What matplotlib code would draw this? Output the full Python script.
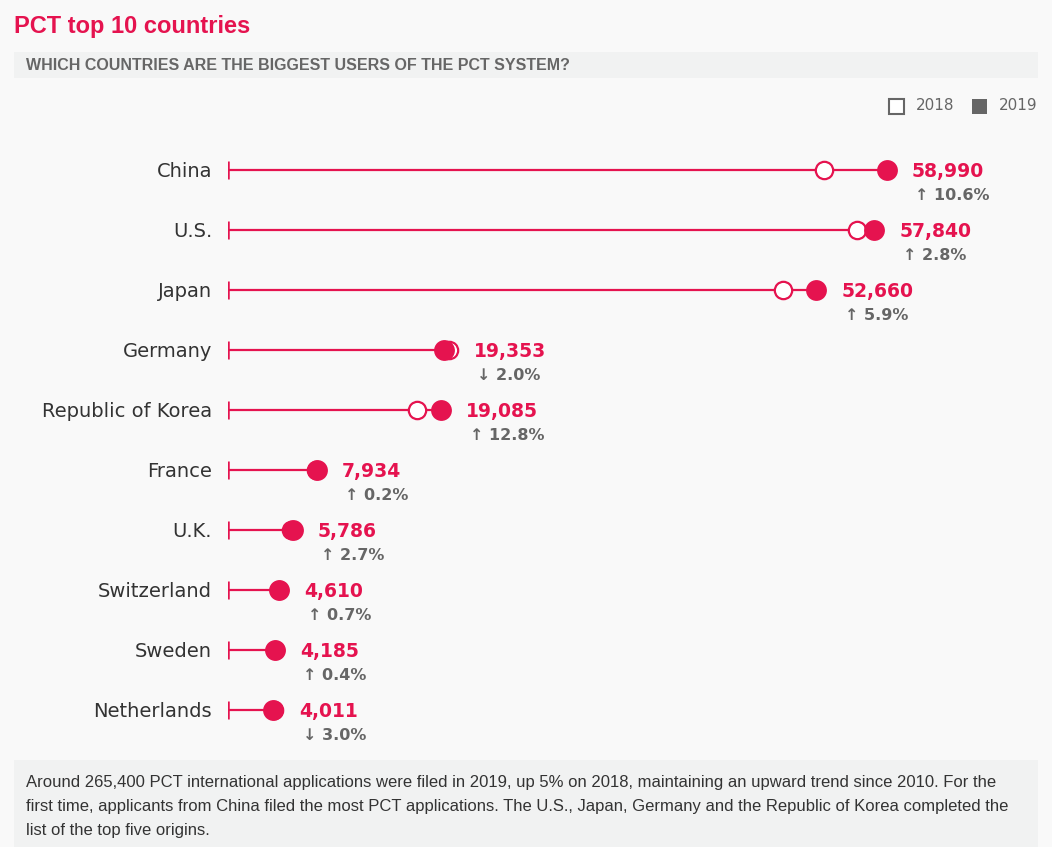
import matplotlib
matplotlib.use("Agg")
import matplotlib.pyplot as plt
from matplotlib.patches import Rectangle

# data
countries = ["China", "U.S.", "Japan", "Germany", "Republic of Korea",
             "France", "U.K.", "Switzerland", "Sweden", "Netherlands"]
apps_2019 = [58990, 57840, 52660, 19353, 19085, 7934, 5786, 4610, 4185, 4011]
apps_2018 = [53340, 56270, 49730, 19750, 16920, 7920, 5630, 4580, 4170, 4140]
pct_change = [10.6, 2.8, 5.9, -2.0, 12.8, 0.2, 2.7, 0.7, 0.4, -3.0]

title = "PCT top 10 countries"
subtitle = "WHICH COUNTRIES ARE THE BIGGEST USERS OF THE PCT SYSTEM?"
footer_lines = [
    "Around 265,400 PCT international applications were filed in 2019, up 5% on 2018, maintaining an upward trend since 2010. For the",
    "first time, applicants from China filed the most PCT applications. The U.S., Japan, Germany and the Republic of Korea completed the",
    "list of the top five origins.",
]

RED = "#e5134f"
GREY = "#666666"
BG = "#f9f9f9"
BAND = "#f1f2f2"

W, H = 1052, 847
fig = plt.figure(figsize=(W / 100, H / 100), dpi=100, facecolor=BG)


def fx(px):
    return px / W


def fy(py):
    return 1 - py / H


# title + subtitle band
fig.text(fx(14), fy(26), title, color=RED, fontsize=17, fontweight="bold",
         family="Liberation Sans", va="center", ha="left")
fig.add_artist(Rectangle((fx(14), fy(78)), fx(1038 - 14), 26 / H,
                         transform=fig.transFigure, facecolor=BAND, edgecolor="none"))
fig.text(fx(26), fy(65), subtitle, color=GREY, fontsize=11.5, fontweight="bold",
         family="Liberation Sans", va="center", ha="left")

# legend
fig.add_artist(Rectangle((fx(889), fy(114)), 15 / W, 15 / H, transform=fig.transFigure,
                         facecolor="white", edgecolor=GREY, linewidth=1.5))
fig.text(fx(916), fy(106), "2018", color=GREY, fontsize=11, va="center", ha="left")
fig.add_artist(Rectangle((fx(972), fy(114)), 15 / W, 15 / H, transform=fig.transFigure,
                         facecolor=GREY, edgecolor="none"))
fig.text(fx(999), fy(106), "2019", color=GREY, fontsize=11, va="center", ha="left")

# main dumbbell axes: x=0 at 228px, 0.01117 px per application
ax = fig.add_axes([fx(228), 1 - 740 / H, 810 / W, 600 / H])
ax.set_facecolor("none")
ax.set_xlim(0, 810 / 0.01117)
ax.set_ylim(len(countries) - 0.5, -0.5)
ax.axis("off")

for i, c in enumerate(countries):
    a18 = apps_2018[i]
    a19 = apps_2019[i]
    end = max(a18, a19)
    ax.vlines(0, i - 0.155, i + 0.155, color=RED, linewidth=1.8)
    ax.hlines(i, 0, end, color=RED, linewidth=1.6, zorder=1)
    ax.plot(a18, i, "o", markersize=12.5, markerfacecolor="white",
            markeredgecolor=RED, markeredgewidth=1.6, zorder=2)
    ax.plot(a19, i, "o", markersize=15, markerfacecolor=RED,
            markeredgecolor=RED, markeredgewidth=0, zorder=3)
    ax.annotate(c, (0, i), xytext=(-11.5, -1), textcoords="offset points",
                ha="right", va="center", fontsize=14, color="#333333")
    ax.annotate(f"{a19:,}", (end, i), xytext=(18, -1), textcoords="offset points",
                ha="left", va="center", fontsize=13.5, fontweight="bold", color=RED)
    arrow = "\u2191" if pct_change[i] >= 0 else "\u2193"
    ax.annotate(f"{arrow} {abs(pct_change[i]):.1f}%", (end, i), xytext=(20.5, -18),
                textcoords="offset points", ha="left", va="center",
                fontsize=11.5, fontweight="bold", color=GREY)

# footer box
fig.add_artist(Rectangle((fx(14), 0), fx(1038 - 14), 87 / H,
                         transform=fig.transFigure, facecolor=BAND, edgecolor="none"))
for k, line in enumerate(footer_lines):
    fig.text(fx(26), fy(782 + 24 * k), line, color="#333333", fontsize=12,
             family="Liberation Sans", va="center", ha="left")

fig.savefig("out.png", dpi=100, facecolor=BG)
